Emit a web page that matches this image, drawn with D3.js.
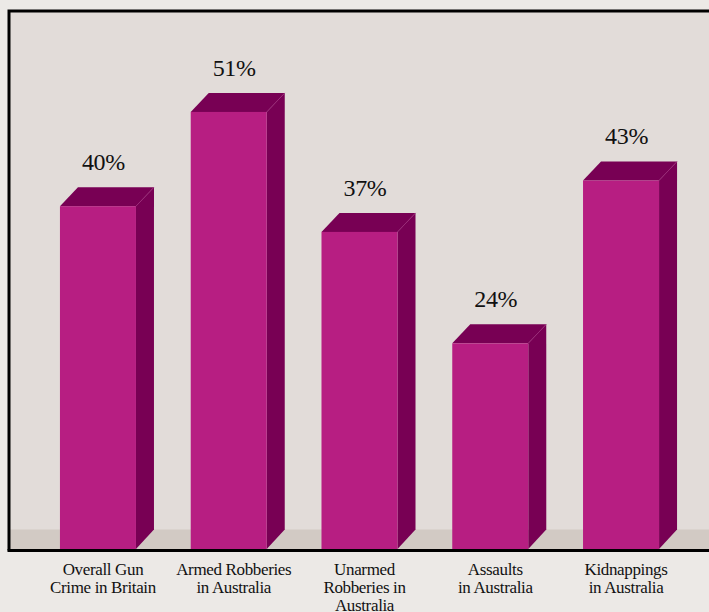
<!DOCTYPE html>
<html><head><meta charset="utf-8">
<script src="https://cdn.jsdelivr.net/npm/d3@7"></script>
<style>html,body{margin:0;padding:0;background:#ECE9E6;}svg{display:block;}
text{font-family:"Liberation Serif","Times New Roman",Times,serif;}</style>
</head><body>
<svg id="chart" width="709" height="612"></svg>
<script>
const categories = [
  ["Overall Gun", "Crime in Britain"],
  ["Armed Robberies", "in Australia"],
  ["Unarmed", "Robberies in", "Australia"],
  ["Assaults", "in Australia"],
  ["Kidnappings", "in Australia"]
];
const values = [40, 51, 37, 24, 43];
const valueLabels = ["40%", "51%", "37%", "24%", "43%"];

const svg = d3.select("#chart");
const W = 709, H = 612;
const plot = {left: 10, top: 12, right: 712, bottom: 549};
const floorTop = 529.5;
const dx = 18, dy = 19;

svg.append("rect").attr("width", W).attr("height", H).attr("fill", "#ECE9E6");
svg.append("rect").attr("x", plot.left).attr("y", plot.top)
  .attr("width", plot.right - plot.left).attr("height", plot.bottom - plot.top)
  .attr("fill", "#E2DCD9");
svg.append("rect").attr("x", plot.left).attr("y", floorTop)
  .attr("width", plot.right - plot.left).attr("height", plot.bottom - floorTop)
  .attr("fill", "#D2CAC4");

const idx = values.map((d, i) => i);
const x = d3.scaleBand().domain(idx).range([10, 709]).paddingInner(0.4187).paddingOuter(0.382);
const y = d3.scaleLinear().domain([0, 60]).range([plot.bottom, plot.bottom - 60 * 8.57]);

const front = "#B71E82", dark = "#780054", edge = "#9A2A78";
const g = svg.append("g");
idx.forEach(i => {
  const x0 = x(i), w = x.bandwidth(), top = y(values[i]);
  g.append("path").attr("d", `M${x0+w},${top} L${x0+w+dx},${top-dy} L${x0+w+dx},${floorTop} L${x0+w},${plot.bottom} Z`)
    .attr("fill", dark);
  g.append("path").attr("d", `M${x0},${top} L${x0+dx},${top-dy} L${x0+w+dx},${top-dy} L${x0+w},${top} Z`)
    .attr("fill", dark);
  g.append("path").attr("d", `M${x0+w},${top} L${x0+w+dx},${top-dy}`).attr("stroke", edge).attr("stroke-width", 0.8).attr("fill", "none");
  g.append("rect").attr("x", x0).attr("y", top).attr("width", w).attr("height", plot.bottom - top).attr("fill", front);
  g.append("text").attr("x", x0 + w / 2 + 5.5).attr("y", top - 36)
    .attr("text-anchor", "middle")
    .style("font-size", "24px").style("letter-spacing", "-0.3px").attr("fill", "#111").text(valueLabels[i]);
  const t = g.append("text").attr("text-anchor", "middle")
    .style("font-size", "17px").style("letter-spacing", "-0.35px").attr("fill", "#111");
  categories[i].forEach((line, k) => {
    t.append("tspan").attr("x", x0 + w / 2 + 5).attr("y", 575 + k * 18).text(line);
  });
});

svg.append("path").attr("d", `M${plot.left-1},${plot.bottom+1.5} L${plot.left-1},${plot.top-1} L${W+2},${plot.top-1}`)
  .attr("fill", "none").attr("stroke", "#000").attr("stroke-width", 3);
svg.append("line").attr("x1", plot.left - 2.5).attr("x2", W + 2).attr("y1", plot.bottom + 1.5).attr("y2", plot.bottom + 1.5)
  .attr("stroke", "#000").attr("stroke-width", 3);
</script>
</body></html>
